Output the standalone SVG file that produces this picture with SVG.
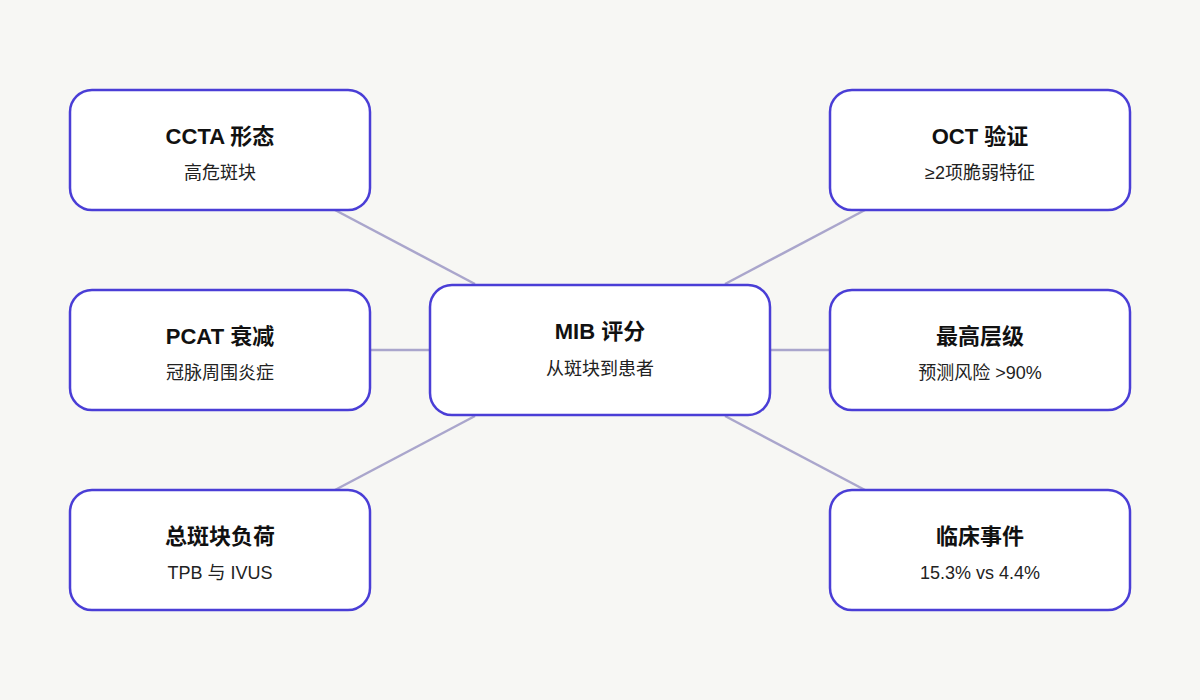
<svg xmlns="http://www.w3.org/2000/svg" width="1200" height="700" viewBox="0 0 1200 700">
<style>
.box{fill:#fff;stroke:#4a3ed6;stroke-width:2.5}
.t{font-family:"Liberation Sans","Noto Sans CJK SC",sans-serif;font-size:22px;font-weight:bold;fill:#111;text-anchor:middle}
.s{font-family:"Liberation Sans","Noto Sans CJK SC",sans-serif;font-size:18px;fill:#222;text-anchor:middle}
.c{stroke:#aaa6cc;stroke-width:2.5;fill:none}
</style>
<rect width="1200" height="700" fill="#f7f7f4"/>
<g id="connectors">
<line class="c" x1="335" y1="210" x2="475" y2="284"/>
<line class="c" x1="370" y1="350" x2="430" y2="350"/>
<line class="c" x1="335" y1="490" x2="475" y2="416"/>
<line class="c" x1="865" y1="210" x2="725" y2="284"/>
<line class="c" x1="770" y1="350" x2="830" y2="350"/>
<line class="c" x1="865" y1="490" x2="725" y2="416"/>
</g>
<g id="center"><rect class="box" x="430" y="285" width="340" height="130" rx="22"/><text class="t" x="600" y="339">MIB 评分</text><text class="s" x="600" y="375">从斑块到患者</text></g>
<g id="ccta"><rect class="box" x="70" y="90" width="300" height="120" rx="22"/><text class="t" x="220" y="144">CCTA 形态</text><text class="s" x="220" y="179">高危斑块</text></g>
<g id="pcat"><rect class="box" x="70" y="290" width="300" height="120" rx="22"/><text class="t" x="220" y="344">PCAT 衰减</text><text class="s" x="220" y="379">冠脉周围炎症</text></g>
<g id="tpb"><rect class="box" x="70" y="490" width="300" height="120" rx="22"/><text class="t" x="220" y="544">总斑块负荷</text><text class="s" x="220" y="579">TPB 与 IVUS</text></g>
<g id="oct"><rect class="box" x="830" y="90" width="300" height="120" rx="22"/><text class="t" x="980" y="144">OCT 验证</text><text class="s" x="980" y="179">≥2项脆弱特征</text></g>
<g id="top"><rect class="box" x="830" y="290" width="300" height="120" rx="22"/><text class="t" x="980" y="344">最高层级</text><text class="s" x="980" y="379">预测风险 &gt;90%</text></g>
<g id="events"><rect class="box" x="830" y="490" width="300" height="120" rx="22"/><text class="t" x="980" y="544">临床事件</text><text class="s" x="980" y="579">15.3% vs 4.4%</text></g>
</svg>
